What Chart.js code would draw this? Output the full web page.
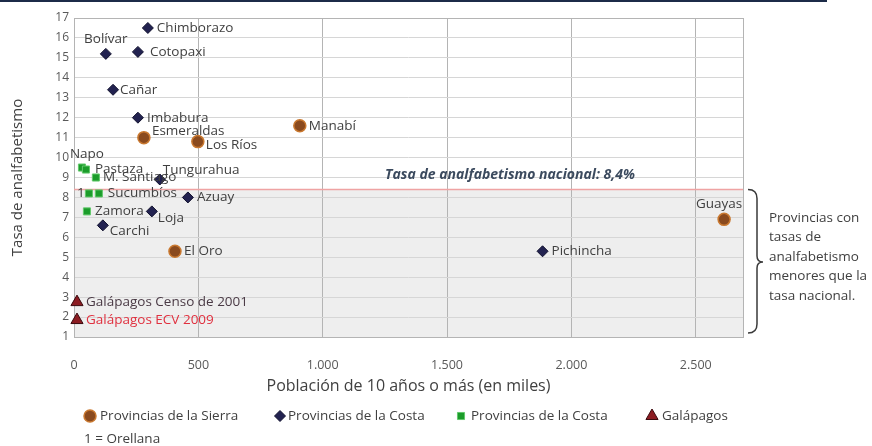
<!DOCTYPE html>
<html>
<head>
<meta charset="utf-8">
<script src="https://cdn.jsdelivr.net/npm/chart.js@4.4.1/dist/chart.umd.min.js"></script>
<style>
  html, body { margin: 0; padding: 0; background: #fff; }
  #wrap { width: 872px; height: 446px; }
</style>
</head>
<body>
<div id="wrap"><canvas id="c"></canvas></div>
<script>
// Brown circles ("Provincias de la Sierra" in the legend)
const sierraNames = ['Esmeraldas', 'Los Ríos', 'Manabí', 'El Oro', 'Guayas'];
const sierraPop   = [281, 498, 908, 406, 2614];
const sierraRate  = [11.0, 10.8, 11.6, 5.3, 6.9];

// Dark diamonds ("Provincias de la Costa")
const costaNames = ['Chimborazo', 'Bolívar', 'Cotopaxi', 'Cañar', 'Imbabura', 'Tungurahua', 'Azuay', 'Loja', 'Carchi', 'Pichincha'];
const costaPop   = [297, 128, 257, 157, 257, 345, 458, 313, 116, 1884];
const costaRate  = [16.5, 15.2, 15.3, 13.4, 12.0, 8.9, 8.0, 7.3, 6.6, 5.3];

// Green squares (second "Provincias de la Costa")
const orienteNames = ['Napo', 'Pastaza', 'M. Santiago', '1', 'Sucumbíos', 'Zamora'];
const orientePop   = [32, 48, 88, 60, 100, 52];
const orienteRate  = [9.5, 9.4, 9.0, 8.2, 8.2, 7.3];

// Galápagos triangles
const galapNames = ['Galápagos Censo de 2001', 'Galápagos ECV 2009'];
const galapPop   = [12, 12];
const galapRate  = [2.75, 1.85];

const nationalRate = 8.4;
const xTickValues = [0, 500, 1000, 1500, 2000, 2500];

// label offsets from the marker: [dx, dy, align]
const labelSpots = {
  'Bolívar': [0, -15, 'center'],
  'Cotopaxi': [12, 0, 'left'],
  'Cañar': [7, 0, 'left'],
  'Esmeraldas': [8, -6, 'left'],
  'Los Ríos': [8, 4, 'left'],
  'Guayas': [-5, -15, 'center'],
  'Tungurahua': [3, -9, 'left'],
  'Loja': [6, 7, 'left'],
  'Carchi': [7, 6, 'left'],
  'Napo': [5, -13, 'center'],
  'M. Santiago': [7, 0, 'left'],
  '1': [-8, 0, 'center'],
  'Sucumbíos': [9, 0, 'left'],
  'Zamora': [8, 0, 'left']
};
const labelColors = { 'Galápagos Censo de 2001': '#4a3a45', 'Galápagos ECV 2009': '#e0303f' };

function pts(xs, ys) {
  return xs.map((x, i) => ({ x: x, y: ys[i] }));
}
function thousands(v) {
  return String(v).replace(/\B(?=(\d{3})+(?!\d))/g, '.');
}

const FONT = 'Open Sans';

// shaded band + national rate line + annotation + plot frame
const bandPlugin = {
  id: 'band',
  beforeDraw(chart) {
    const { ctx, chartArea: a, scales: { y } } = chart;
    const yl = y.getPixelForValue(nationalRate);
    ctx.save();
    ctx.fillStyle = '#eeeeee';
    ctx.fillRect(a.left, yl, a.right - a.left, a.bottom - yl);
    // dark top rule of the frame
    ctx.fillStyle = '#1c2b48';
    ctx.fillRect(0, 0, 827, 2);
    ctx.restore();
  },
  beforeDatasetsDraw(chart) {
    const { ctx, chartArea: a, scales: { y } } = chart;
    const yl = y.getPixelForValue(nationalRate);
    ctx.save();
    ctx.strokeStyle = '#b4b4b4';
    ctx.lineWidth = 1;
    ctx.strokeRect(a.left + 0.5, a.top + 0.5, a.right - a.left, a.bottom - a.top);
    ctx.strokeStyle = '#efa3a3';
    ctx.lineWidth = 1.5;
    ctx.beginPath();
    ctx.moveTo(a.left, yl);
    ctx.lineTo(a.right, yl);
    ctx.stroke();
    ctx.font = 'italic bold 14px ' + FONT;
    ctx.fillStyle = '#3b4a5e';
    ctx.textAlign = 'center';
    ctx.textBaseline = 'middle';
    ctx.fillText('Tasa de analfabetismo nacional: 8,4%', 510, yl - 14);

    // bracket on the right
    const yb = y.getPixelForValue(1) - 4;
    const top = yl, mid = 262, bx = 757;
    ctx.strokeStyle = '#3a3a3a';
    ctx.lineWidth = 1.5;
    ctx.beginPath();
    ctx.moveTo(748, top);
    ctx.quadraticCurveTo(bx, top, bx, top + 9);
    ctx.lineTo(bx, mid - 6);
    ctx.quadraticCurveTo(bx, mid, bx + 6, mid);
    ctx.quadraticCurveTo(bx, mid, bx, mid + 6);
    ctx.lineTo(bx, yb - 9);
    ctx.quadraticCurveTo(bx, yb, 748, yb);
    ctx.stroke();
    ctx.font = '13.5px ' + FONT;
    ctx.fillStyle = '#404040';
    ctx.textAlign = 'left';
    ['Provincias con', 'tasas de', 'analfabetismo', 'menores que la', 'tasa nacional.']
      .forEach((t, i) => ctx.fillText(t, 769, 218 + i * 19.5));
    ctx.restore();
  },
  afterDatasetsDraw(chart) {
    const { ctx } = chart;
    ctx.save();
    ctx.font = '13.5px ' + FONT;
    ctx.textBaseline = 'middle';
    chart.data.datasets.forEach((ds, i) => {
      const meta = chart.getDatasetMeta(i);
      meta.data.forEach((el, j) => {
        const name = ds.names[j];
        const s = labelSpots[name] || [9, 0, 'left'];
        ctx.textAlign = s[2];
        ctx.fillStyle = labelColors[name] || '#404040';
        ctx.fillText(name, el.x + s[0], el.y + s[1]);
      });
    });
    ctx.restore();
  },
  afterDraw(chart) {
    const { ctx } = chart;
    const H = Chart.helpers;
    const items = [
      [0, 90, 100, 'Provincias de la Sierra'],
      [1, 280, 288, 'Provincias de la Costa'],
      [2, 461, 471, 'Provincias de la Costa'],
      [3, 652, 662, 'Galápagos']
    ];
    ctx.save();
    ctx.font = '13.5px ' + FONT;
    ctx.textBaseline = 'middle';
    ctx.textAlign = 'left';
    items.forEach(([di, mx, tx, text]) => {
      const ds = chart.data.datasets[di];
      ctx.fillStyle = ds.backgroundColor;
      ctx.strokeStyle = ds.borderColor;
      ctx.lineWidth = ds.borderWidth;
      H.drawPoint(ctx, { pointStyle: ds.pointStyle, radius: ds.pointRadius, rotation: 0, borderWidth: ds.borderWidth }, mx, 416);
      ctx.fillStyle = '#404040';
      ctx.fillText(text, tx, 416);
    });
    ctx.fillText('1 = Orellana', 84, 439);
    ctx.restore();
  }
};

new Chart(document.getElementById('c'), {
  type: 'scatter',
  data: {
    datasets: [
      { names: sierraNames, data: pts(sierraPop, sierraRate), pointStyle: 'circle', pointRadius: 6,
        backgroundColor: '#8a4a1e', borderColor: '#c9782f', borderWidth: 1.5, clip: false },
      { names: costaNames, data: pts(costaPop, costaRate), pointStyle: 'rectRot', pointRadius: 5.5,
        backgroundColor: '#222250', borderColor: '#12122e', borderWidth: 1, clip: false },
      { names: orienteNames, data: pts(orientePop, orienteRate), pointStyle: 'rect', pointRadius: 5,
        backgroundColor: '#1b9c2a', borderColor: '#63c96c', borderWidth: 1, clip: false },
      { names: galapNames, data: pts(galapPop, galapRate), pointStyle: 'triangle', pointRadius: 7,
        backgroundColor: '#8c1c22', borderColor: '#3a0a0e', borderWidth: 1, clip: false }
    ]
  },
  options: {
    responsive: true,
    maintainAspectRatio: false,
    animation: false,
    layout: { padding: { top: 18, right: 129, bottom: 50, left: 0 } },
    plugins: { legend: { display: false }, tooltip: { enabled: false } },
    scales: {
      x: {
        type: 'linear', min: 0, max: 2690,
        afterBuildTicks: s => { s.ticks = xTickValues.map(v => ({ value: v })); },
        ticks: { padding: 21, color: '#595959',
                 font: { family: FONT, size: 12.5 }, callback: v => thousands(v) },
        grid: { color: '#b4b4b4', drawTicks: false },
        border: { display: false },
        title: { display: true, text: 'Población de 10 años o más (en miles)', color: '#404040',
                 font: { family: FONT, size: 16 }, padding: 0 },
        afterFit: s => { s.height = 59; }
      },
      y: {
        min: 1, max: 17,
        ticks: { stepSize: 1, padding: 5, color: '#595959', font: { family: FONT, size: 12 } },
        grid: { color: '#d6d6d6', drawTicks: false },
        border: { display: false },
        title: { display: true, text: 'Tasa de analfabetismo', color: '#404040',
                 font: { family: FONT, size: 15 }, padding: { top: 9, bottom: 0 } },
        afterFit: s => { s.width = 74; }
      }
    }
  },
  plugins: [bandPlugin]
});
</script>
</body>
</html>
